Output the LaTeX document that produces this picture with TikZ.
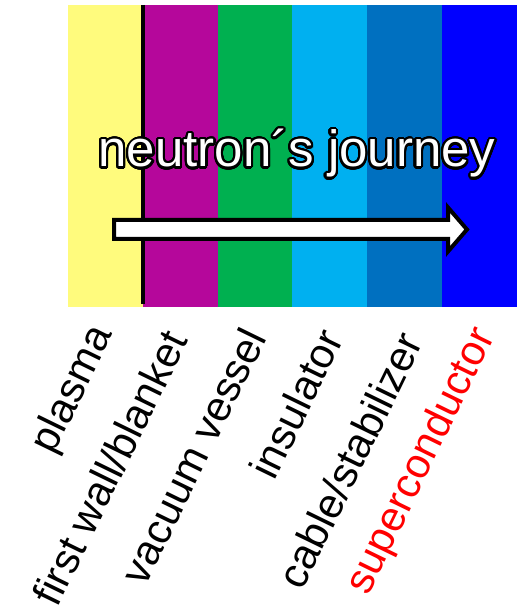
\documentclass[tikz,border=0pt]{standalone}
\usepackage{fontspec}
\setmainfont{Liberation Sans}
\usepackage[copies]{contour}
\usetikzlibrary{positioning}
\definecolor{LayPlasma}{HTML}{FFFB7D}
\definecolor{LayWall}{HTML}{B5079B}
\definecolor{LayVessel}{HTML}{00B050}
\definecolor{LayInsul}{HTML}{00B0F0}
\definecolor{LayCable}{HTML}{0070C0}
\definecolor{LaySuper}{HTML}{0000FF}
\contourlength{2.2pt}
\contournumber{32}
\tikzset{layer/.style={inner sep=0pt,outer sep=0pt,minimum width=74.83pt,minimum height=302pt},
tag/.style={rotate=64,anchor=east,inner sep=0pt,font=\fontsize{42}{42}\selectfont},
title/.style={anchor=base,inner sep=0pt,font=\fontsize{51}{53}\selectfont},
divider/.style={line width=4pt,draw=black},
journey/.style={fill=white,draw=black,line width=4pt,line join=miter}}

\begin{document}
\begin{tikzpicture}[x=1pt,y=1pt,node distance=0pt]
\useasboundingbox (0,0) rectangle (517,605);
\node[layer,fill=LayPlasma,anchor=south west](plasma) at (68,298) {};
\node[layer,fill=LayWall,right=of plasma](wall) {};
\node[layer,fill=LayVessel,right=of wall](vessel) {};
\node[layer,fill=LayInsul,right=of vessel](insul) {};
\node[layer,fill=LayCable,right=of insul](cable) {};
\node[layer,fill=LaySuper,right=of cable](super) {};
\draw[divider](plasma.north east)--([yshift=3pt]plasma.south east);
\node[title](heading) at (297,438) {\contour{black}{\textcolor{white}{neutron´s journey}}};
\draw[journey](114,366)--(448,366)--(448,353.5)--(467,375.5)--(448,397.5)--(448,385)--(114,385)--cycle;
\node[tag](tplasma) at ([xshift=-2pt,yshift=-22pt]plasma.south) {plasma};
\node[tag](twall) at ([xshift=-5pt,yshift=-26pt]wall.south) {first wall/blanket};
\node[tag](tvessel) at ([xshift=-1pt,yshift=-24pt]vessel.south) {vacuum vessel};
\node[tag](tinsul) at ([xshift=1pt,yshift=-25pt]insul.south) {insulator};
\node[tag](tcable) at ([xshift=6pt,yshift=-28pt]cable.south) {cable/stabilizer};
\node[tag,text=red](tsuper) at ([xshift=6pt,yshift=-24pt]super.south) {superconductor};
\end{tikzpicture}
\end{document}
